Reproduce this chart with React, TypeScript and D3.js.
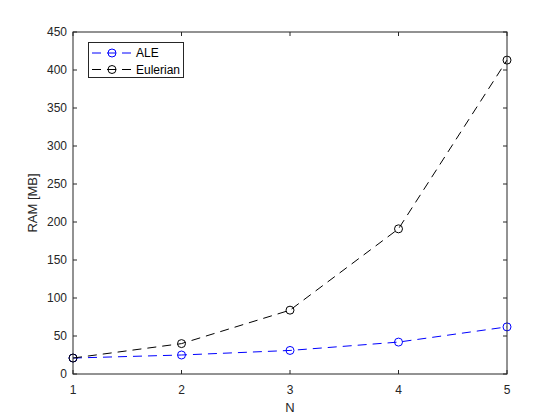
import React, { useEffect, useRef } from 'react';
import * as d3 from 'd3';

const nValues = [1, 2, 3, 4, 5];
const aleRam = [21, 25, 31, 42, 62];
const eulerianRam = [21, 40, 84, 191, 413];
const yTicks = [0, 50, 100, 150, 200, 250, 300, 350, 400, 450];

const series = [
  { name: 'ALE', values: aleRam, color: '#0000ff' },
  { name: 'Eulerian', values: eulerianRam, color: '#000000' },
];

const App = () => {
  const svgRef = useRef<SVGSVGElement>(null);

  useEffect(() => {
    const svg = d3.select(svgRef.current);
    svg.selectAll('*').remove();

    const width = 560;
    const height = 420;
    const left = 73, right = 507, top = 32, bottom = 374;
    const axisColor = '#262626';
    const font = 'Liberation Sans, Arial, sans-serif';
    const dash = '9,6';

    const x = d3.scaleLinear().domain([1, 5]).range([left, right]);
    const y = d3.scaleLinear().domain([0, 450]).range([bottom, top]);

    svg.attr('width', width).attr('height', height);

    svg.append('rect')
      .attr('width', width).attr('height', height).attr('fill', '#fff');

    // lines
    const line = d3.line<number>()
      .x((_, i) => x(nValues[i]))
      .y(d => y(d));

    series.forEach(s => {
      svg.append('path')
        .attr('d', line(s.values))
        .attr('fill', 'none')
        .attr('stroke', s.color)
        .attr('stroke-width', 1)
        .attr('stroke-dasharray', dash);

      svg.selectAll(null)
        .data(s.values)
        .enter().append('circle')
        .attr('cx', (_, i) => x(nValues[i]))
        .attr('cy', d => y(d))
        .attr('r', 4)
        .attr('fill', 'none')
        .attr('stroke', s.color)
        .attr('stroke-width', 1);
    });

    // axes box
    svg.append('rect')
      .attr('x', left).attr('y', top)
      .attr('width', right - left).attr('height', bottom - top)
      .attr('fill', 'none').attr('stroke', axisColor).attr('stroke-width', 1);

    const tickLen = 4;
    const g = svg.append('g').attr('stroke', axisColor).attr('stroke-width', 1);
    nValues.forEach(v => {
      g.append('line').attr('x1', x(v)).attr('x2', x(v)).attr('y1', bottom).attr('y2', bottom - tickLen);
      g.append('line').attr('x1', x(v)).attr('x2', x(v)).attr('y1', top).attr('y2', top + tickLen);
    });
    yTicks.forEach(v => {
      g.append('line').attr('x1', left).attr('x2', left + tickLen).attr('y1', y(v)).attr('y2', y(v));
      g.append('line').attr('x1', right).attr('x2', right - tickLen).attr('y1', y(v)).attr('y2', y(v));
    });

    svg.selectAll('.xt')
      .data(nValues)
      .enter().append('text')
      .attr('x', d => x(d))
      .attr('y', bottom + 20)
      .attr('text-anchor', 'middle')
      .attr('font-family', font)
      .attr('font-size', 12)
      .attr('fill', axisColor)
      .text(d => d);

    svg.selectAll('.yt')
      .data(yTicks)
      .enter().append('text')
      .attr('x', left - 6)
      .attr('y', d => y(d))
      .attr('dy', '0.35em')
      .attr('text-anchor', 'end')
      .attr('font-family', font)
      .attr('font-size', 12)
      .attr('fill', axisColor)
      .text(d => d);

    svg.append('text')
      .attr('x', (left + right) / 2)
      .attr('y', 412)
      .attr('text-anchor', 'middle')
      .attr('font-family', font)
      .attr('font-size', 13)
      .attr('fill', axisColor)
      .text('N');

    svg.append('text')
      .attr('transform', `translate(37,${(top + bottom) / 2}) rotate(-90)`)
      .attr('text-anchor', 'middle')
      .attr('font-family', font)
      .attr('font-size', 13)
      .attr('fill', axisColor)
      .text('RAM [MB]');

    // legend
    const legend = svg.append('g');
    legend.append('rect')
      .attr('x', 88.5).attr('y', 42.5).attr('width', 95).attr('height', 35)
      .attr('fill', '#fff').attr('stroke', axisColor).attr('stroke-width', 1);
    series.forEach((s, i) => {
      const ly = 53 + i * 16.5;
      legend.append('line')
        .attr('x1', 92).attr('x2', 132).attr('y1', ly).attr('y2', ly)
        .attr('stroke', s.color).attr('stroke-width', 1)
        .attr('stroke-dasharray', dash);
      legend.append('circle')
        .attr('cx', 112).attr('cy', ly).attr('r', 4)
        .attr('fill', 'none').attr('stroke', s.color).attr('stroke-width', 1);
      legend.append('text')
        .attr('x', 136).attr('y', ly).attr('dy', '0.35em')
        .attr('font-family', font).attr('font-size', 12)
        .attr('fill', '#000')
        .text(s.name);
    });
  }, []);

  return <svg ref={svgRef} style={{ position: 'absolute', left: 0, top: 0 }}></svg>;
};

export default App;
